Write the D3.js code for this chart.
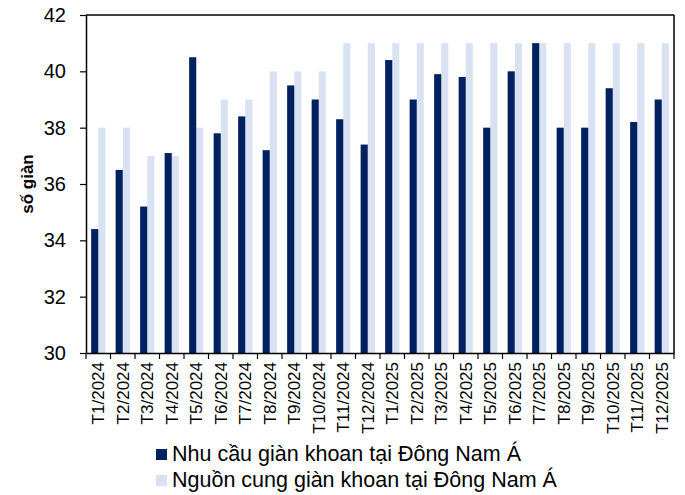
<!DOCTYPE html>
<html>
<head>
<meta charset="utf-8">
<script src="https://cdn.jsdelivr.net/npm/d3@7"></script>
<style>
  body { margin: 0; background: #fff; }
  svg { display: block; }
  text { font-family: "Liberation Sans", Arial, sans-serif; fill: #000; }
</style>
</head>
<body>
<svg id="chart" width="685" height="495"></svg>
<script>
const categories = ["T1/2024","T2/2024","T3/2024","T4/2024","T5/2024","T6/2024","T7/2024","T8/2024","T9/2024","T10/2024","T11/2024","T12/2024",
  "T1/2025","T2/2025","T3/2025","T4/2025","T5/2025","T6/2025","T7/2025","T8/2025","T9/2025","T10/2025","T11/2025","T12/2025"];
const demand = [34.4,36.5,35.2,37.1,40.5,37.8,38.4,37.2,39.5,39.0,38.3,37.4,
  40.4,39.0,39.9,39.8,38.0,40.0,41.0,38.0,38.0,39.4,38.2,39.0];
const supply = [38,38,37,37,38,39,39,40,40,40,41,41,
  41,41,41,41,41,41,41,41,41,41,41,41];
const seriesNames = ["Nhu cầu giàn khoan tại Đông Nam Á", "Nguồn cung giàn khoan tại Đông Nam Á"];
const yTicks = [30,32,34,36,38,40,42];
const colors = ["#002060", "#D9E2F3"];

const svg = d3.select("#chart");
const m = {left: 86, top: 15, right: 674, bottom: 353};

const x = d3.scaleBand().domain(categories).range([m.left, m.right]).paddingInner(0).paddingOuter(0);
const y = d3.scaleLinear().domain([30, 42]).range([m.bottom, m.top]);
const barW = x.bandwidth() * 0.29;

const g = svg.append("g");
const data = categories.map((c, i) => ({c, d: demand[i], s: supply[i]}));

// supply (light)
g.selectAll("rect.sup").data(data).enter().append("rect")
  .attr("class", "sup")
  .attr("x", d => x(d.c) + x.bandwidth() / 2)
  .attr("y", d => y(d.s))
  .attr("width", barW)
  .attr("height", d => y(30) - y(d.s))
  .attr("fill", colors[1]);
// demand (dark)
g.selectAll("rect.dem").data(data).enter().append("rect")
  .attr("class", "dem")
  .attr("x", d => x(d.c) + x.bandwidth() / 2 - barW)
  .attr("y", d => y(d.d))
  .attr("width", barW)
  .attr("height", d => y(30) - y(d.d))
  .attr("fill", colors[0]);

// frame: top and right
svg.append("line").attr("x1", m.left).attr("x2", m.right).attr("y1", m.top).attr("y2", m.top)
  .attr("stroke", "#000").attr("stroke-width", 1.5);
svg.append("line").attr("x1", m.right).attr("x2", m.right).attr("y1", m.top).attr("y2", m.bottom)
  .attr("stroke", "#000").attr("stroke-width", 1.5);

// y axis
const yAxis = svg.append("g").attr("transform", `translate(${m.left},0)`)
  .call(d3.axisLeft(y).tickValues(yTicks).tickSize(6).tickPadding(14).tickSizeOuter(0));
yAxis.select(".domain").attr("stroke", "#000").attr("stroke-width", 1.5);
yAxis.selectAll(".tick line").attr("stroke", "#000").attr("stroke-width", 1.2);
yAxis.selectAll(".tick text").style("font-size", "20px").style("font-family", "Liberation Sans, Arial, sans-serif");

// x axis
const xAxis = svg.append("g").attr("transform", `translate(0,${m.bottom})`)
  .call(d3.axisBottom(x).tickSize(0).tickSizeOuter(0));
xAxis.select(".domain").attr("stroke", "#000").attr("stroke-width", 1.5);
xAxis.selectAll(".tick text")
  .style("font-size", "17px").style("font-family", "Liberation Sans, Arial, sans-serif")
  .attr("text-anchor", "end")
  .attr("transform", "rotate(-90)")
  .attr("x", -9).attr("y", 0).attr("dy", "0.35em");
// category boundary ticks
svg.append("g").selectAll("line").data(categories.concat(["__end"])).enter().append("line")
  .attr("x1", (d, i) => i < categories.length ? x(d) : m.right)
  .attr("x2", (d, i) => i < categories.length ? x(d) : m.right)
  .attr("y1", m.bottom).attr("y2", m.bottom + 6)
  .attr("stroke", "#000").attr("stroke-width", 1.2);

// y title
svg.append("text")
  .attr("transform", `translate(33,${(m.top + m.bottom) / 2}) rotate(-90)`)
  .attr("text-anchor", "middle")
  .style("font-size", "17px").style("font-weight", "bold")
  .text("số giàn");

// legend
const lg = svg.append("g").attr("transform", "translate(156,449)");
seriesNames.forEach((n, i) => {
  lg.append("rect").attr("x", 0).attr("y", i * 26).attr("width", 11).attr("height", 11).attr("fill", colors[i]);
  lg.append("text").attr("x", 16).attr("y", i * 26 + 12).style("font-size", "21.5px").text(n);
});
</script>
</body>
</html>
